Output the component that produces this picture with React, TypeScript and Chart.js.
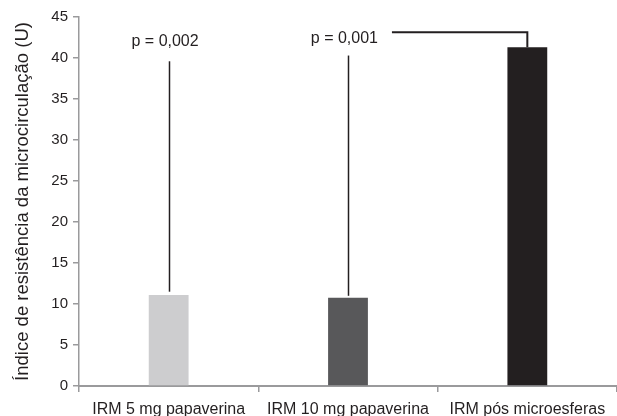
import React, { useEffect, useRef } from "react";
import { Chart, registerables } from "chart.js";

Chart.register(...registerables);

const categories = ["IRM 5 mg papaverina", "IRM 10 mg papaverina", "IRM pós microesferas"];
const values = [11.1, 10.75, 41.3];
const barColors = ["#cdcdcf", "#58585a", "#231f20"];
const yTitle = "Índice de resistência da microcirculação (U)";

// annotations (data units)
const pLabels = ["p = 0,002", "p = 0,001"];
const pLabelIndex = [-0.02, 0.98];
const pLabelValues = [42.0, 42.4];
const stemIndex = [0, 1];
const stemTop = [39.6, 40.3];
const stemBottom = [11.5, 11.0];
const bracketStartIndex = 1.245;
const bracketEndIndex = 2;
const bracketLevel = 43.15;

const FONT = "'Liberation Sans', Arial, Helvetica, sans-serif";
const INK = "#231f20";
const AXIS = "#9a9a9c";

const annotationPlugin = {
  id: "pAnnotations",
  afterDatasetsDraw(chart: any) {
    const ctx = chart.ctx;
    const xs = chart.scales.x;
    const ys = chart.scales.y;
    ctx.save();
    ctx.strokeStyle = INK;
    ctx.lineWidth = 1.5;
    stemIndex.forEach((idx, i) => {
      const x = Math.round(xs.getPixelForValue(idx)) + 0.5;
      ctx.beginPath();
      ctx.moveTo(x, ys.getPixelForValue(stemTop[i]));
      ctx.lineTo(x, ys.getPixelForValue(stemBottom[i]));
      ctx.stroke();
    });
    // bracket
    ctx.lineWidth = 2;
    const bx0 = xs.getPixelForValue(bracketStartIndex);
    const bx1 = xs.getPixelForValue(bracketEndIndex);
    const by = ys.getPixelForValue(bracketLevel);
    const byEnd = ys.getPixelForValue(values[2]);
    ctx.beginPath();
    ctx.moveTo(bx0, by);
    ctx.lineTo(bx1, by);
    ctx.lineTo(bx1, byEnd);
    ctx.stroke();
    // labels
    ctx.fillStyle = INK;
    ctx.font = `16px ${FONT}`;
    ctx.textAlign = "center";
    ctx.textBaseline = "middle";
    pLabels.forEach((t, i) => {
      ctx.fillText(t, xs.getPixelForValue(pLabelIndex[i]), ys.getPixelForValue(pLabelValues[i]));
    });
    ctx.restore();
  },
};

export default function App() {
  const ref = useRef<HTMLCanvasElement>(null);
  useEffect(() => {
    if (!ref.current) return;
    const chart = new Chart(ref.current, {
      type: "bar",
      data: {
        labels: categories,
        datasets: [
          {
            data: values,
            backgroundColor: barColors,
            borderWidth: 0,
            barPercentage: 0.222,
            categoryPercentage: 1,
          },
        ],
      },
      options: {
        animation: false,
        responsive: false,
        maintainAspectRatio: false,
        layout: { padding: { top: 17, left: 0, right: 0, bottom: 0 } },
        plugins: { legend: { display: false }, tooltip: { enabled: false } },
        scales: {
          x: {
            grid: {
              display: true,
              drawOnChartArea: false,
              drawTicks: true,
              tickLength: 6,
              color: AXIS,
              lineWidth: 1.5,
              offset: true,
            },
            border: { display: true, color: AXIS, width: 2 },
            ticks: { color: INK, font: { family: FONT, size: 16 }, padding: 8, maxRotation: 0, autoSkip: false },
            afterFit: (s: any) => {
              s.height = 30;
            },
          },
          y: {
            min: 0,
            max: 45,
            ticks: { stepSize: 5, color: INK, font: { family: FONT, size: 15 }, padding: 5 },
            grid: {
              display: true,
              drawOnChartArea: false,
              drawTicks: true,
              tickLength: 6,
              color: AXIS,
              lineWidth: 1.5,
            },
            border: { display: true, color: AXIS, width: 1.5 },
            title: {
              display: true,
              text: yTitle,
              color: INK,
              font: { family: FONT, size: 18.5 },
              padding: { top: 12, bottom: 0 },
            },
            afterFit: (s: any) => {
              s.width = 79;
            },
          },
        },
      },
      plugins: [annotationPlugin],
    });
    return () => chart.destroy();
  }, []);
  return (
    <div style={{ position: "absolute", left: 0, top: 0, width: 617, height: 416 }}>
      <canvas ref={ref} width={617} height={416} />
    </div>
  );
}
